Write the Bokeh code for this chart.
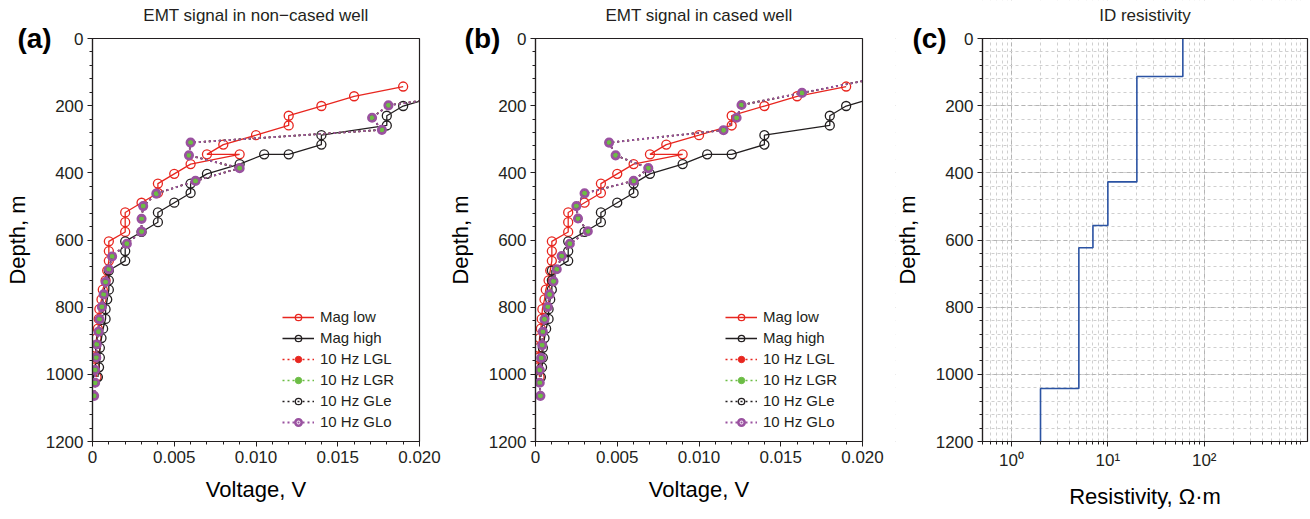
import math
from bokeh.plotting import figure
from bokeh.layouts import row
from bokeh.models import (Range1d, FixedTicker, SingleIntervalTicker, CustomJSTickFormatter,
                          Legend, LegendItem, Label)
from bokeh.embed import file_html
from bokeh.resources import INLINE

# ---------------- data ----------------
depth_low = [143, 172, 201, 230, 259, 288, 316, 345, 345, 374, 403, 432, 460, 489, 518, 547, 576,
             604, 633, 662, 691, 720, 748, 777, 806, 835, 864, 892, 921, 950, 979, 1008]
mag_low = [0.0190, 0.0160, 0.0140, 0.0120, 0.0120, 0.0100, 0.0080, 0.0070, 0.0090, 0.0060, 0.0050,
           0.0040, 0.0040, 0.0030, 0.0020, 0.0020, 0.0020, 0.0010, 0.0010, 0.0010, 0.0009, 0.0008,
           0.00063, 0.00055, 0.00042, 0.00038, 0.00033, 0.00025, 0.00020, 0.00020, 0.00015, 0.00025]

depth_high = [172, 201, 230, 259, 288, 316, 345, 345, 374, 403, 432, 460, 489, 518, 547, 576, 604,
              633, 662, 691, 720, 748, 777, 806, 835, 864, 892, 921, 950, 979, 1008]
mag_high = [0.0210, 0.0190, 0.0180, 0.0180, 0.0140, 0.0140, 0.0120, 0.0105, 0.0090, 0.0070, 0.0060,
            0.0060, 0.0050, 0.0040, 0.0040, 0.0030, 0.0020, 0.0020, 0.0020, 0.0010, 0.0010, 0.0010,
            0.0009, 0.0008, 0.0008, 0.00065, 0.00055, 0.00045, 0.00045, 0.00040, 0.00033]

# 10 Hz series, non-cased well (LGL, LGR, GLe, GLo overlap)
depth_10hz_a = [161, 199, 236, 272, 310, 348, 386, 424, 462, 499, 537, 575, 611, 649, 687, 725, 762,
                799, 836, 873, 911, 950, 987, 1025, 1064]
hz_a = [0.0237, 0.0181, 0.0171, 0.0177, 0.0060, 0.0059, 0.0090, 0.0063, 0.0039, 0.0031, 0.0030,
        0.0030, 0.0021, 0.0012, 0.0010, 0.0008, 0.00068, 0.00057, 0.00043, 0.00037, 0.00026,
        0.00023, 0.00016, 0.00016, 0.0001]

# 10 Hz series, cased well
depth_10hz_b = [124, 162, 198, 236, 273, 310, 348, 386, 424, 461, 499, 536, 574, 611, 648, 687, 723,
                762, 799, 836, 873, 913, 951, 987, 1025, 1064]
hz_b = [0.0203, 0.0163, 0.0126, 0.0123, 0.0115, 0.0045, 0.0049, 0.0069, 0.0060, 0.0030, 0.0025,
        0.0026, 0.0032, 0.0021, 0.0016, 0.0013, 0.0011, 0.00086, 0.00075, 0.00055, 0.00045,
        0.00041, 0.00035, 0.00026, 0.00026, 0.0003]

# 1D resistivity model
layer_top = [0, 113, 427, 557, 623, 1042]
layer_res = [60, 20, 10, 7, 5, 2]
max_depth = 1200

volt_max = 0.02
res_min, res_max = 0.5, 1180
x_ticks = [0, 0.005, 0.010, 0.015, 0.020]
log_labels = {1: "10\u2070", 10: "10\u00b9", 100: "10\u00b2"}

# ---------------- layout geometry (pixels) ----------------
H = 519
BOX_TOP, BOX_BOTTOM = 38, 441
W_A, W_B, W_C = 442, 453, 415
BOX_A = (92, 419)
BOX_B = (93, 420)
BOX_C = (87, 412)
TAG_DX = {"(a)": -58, "(b)": -53, "(c)": -53}

# ---------------- style ----------------
FONT = "Liberation Sans"
INK = "#231f20"
RED = "#e8261f"
GREEN = "#6cbd45"
PURPLE = "#9a52a0"
BLUE = "#2b53a3"

ppm = (BOX_BOTTOM - BOX_TOP) / max_depth
Y_TOP = -BOX_TOP / ppm
Y_BOT = max_depth + (H - BOX_BOTTOM) / ppm


def style_axis(ax):
    ax.axis_line_color = INK
    ax.axis_line_width = 1.2
    ax.major_tick_line_color = INK
    ax.minor_tick_line_color = INK
    ax.major_tick_out = 5
    ax.major_tick_in = 0
    ax.minor_tick_out = 3
    ax.minor_tick_in = 0
    ax.major_label_text_font = FONT
    ax.major_label_text_font_size = "17px"
    ax.major_label_text_color = INK
    ax.major_label_standoff = 4
    ax.axis_label_text_font = FONT
    ax.axis_label_text_font_size = "22px"
    ax.axis_label_text_font_style = "normal"
    ax.axis_label_text_color = "black"


def make_fig(W, box, x0, x1, log=False):
    bx0, bx1 = box
    if log:
        l0, l1 = math.log10(x0), math.log10(x1)
        ppd = (bx1 - bx0) / (l1 - l0)
        xs, xe = 10 ** (l0 - bx0 / ppd), 10 ** (l1 + (W - bx1) / ppd)
        tx = lambda dx: 10 ** (l0 + dx / ppd)
        xmid = 10 ** ((l0 + l1) / 2)
    else:
        ppx = (bx1 - bx0) / (x1 - x0)
        xs, xe = x0 - bx0 / ppx, x1 + (W - bx1) / ppx
        tx = lambda dx: x0 + dx / ppx
        xmid = (x0 + x1) / 2
    p = figure(width=W, height=H, x_range=Range1d(xs, xe), y_range=Range1d(Y_BOT, Y_TOP),
               x_axis_type="log" if log else "linear", output_backend="svg",
               toolbar_location=None, min_border=0, min_border_left=0, min_border_right=0,
               min_border_top=0, min_border_bottom=0)
    p.outline_line_color = None
    p.background_fill_color = "white"
    p.border_fill_color = "white"
    for ax in (p.xaxis[0], p.yaxis[0]):
        style_axis(ax)
    p.xaxis.fixed_location = max_depth
    p.xaxis.bounds = (x0, x1)
    p.yaxis.fixed_location = x0
    p.yaxis.bounds = (0, max_depth)
    p.yaxis.ticker = SingleIntervalTicker(interval=200, num_minor_ticks=5)
    p.yaxis.axis_label = "Depth, m"
    p.yaxis.axis_label_standoff = 13
    p.xaxis.axis_label_standoff = 11
    p._geo = dict(xs=xs, xe=xe, x0=x0, x1=x1, tx=tx, xmid=xmid)
    return p


def finish(p, title, tag):
    g = p._geo
    # white masks outside the plotting box (they act as the frame clip)
    p.quad(left=[g["xs"], g["x1"], g["xs"], g["xs"]], right=[g["x0"], g["xe"], g["xe"], g["xe"]],
           top=[Y_TOP, Y_TOP, Y_TOP, max_depth], bottom=[Y_BOT, Y_BOT, 0, Y_BOT],
           fill_color="white", line_color=None)
    p.quad(left=[g["x0"]], right=[g["x1"]], top=[0], bottom=[max_depth],
           fill_color=None, line_color=INK, line_width=1.2)
    p.add_layout(Label(x=g["xmid"], y=(15 - BOX_TOP) / ppm, text=title, text_font=FONT,
                       text_font_size="17px", text_align="center", text_baseline="middle",
                       text_color=INK))
    p.add_layout(Label(x=g["tx"](TAG_DX[tag]), y=0, text=tag, text_font=FONT,
                       text_font_size="28px", text_font_style="bold", text_align="center",
                       text_baseline="middle", text_color="black"))


def emt_panel(W, box, title, hz_depth, hz_vals, tag):
    p = make_fig(W, box, 0, volt_max)
    p.grid.visible = False
    p.xaxis.ticker = FixedTicker(ticks=x_ticks, minor_ticks=[i * 0.001 for i in range(21)])
    p.xaxis.formatter = CustomJSTickFormatter(code="return tick == 0 ? '0' : tick.toFixed(3);")
    p.xaxis.axis_label = "Voltage, V"

    l1 = p.line(mag_low, depth_low, line_color=RED, line_width=1.3)
    c1 = p.scatter(mag_low, depth_low, marker="circle", size=9, fill_color=None,
                   line_color=RED, line_width=1.3)
    l2 = p.line(mag_high, depth_high, line_color=INK, line_width=1.3)
    c2 = p.scatter(mag_high, depth_high, marker="circle", size=9, fill_color=None,
                   line_color=INK, line_width=1.3)

    l3 = p.line(hz_vals, hz_depth, line_color=RED, line_width=1.6, line_dash="2 3")
    c3 = p.scatter(hz_vals, hz_depth, marker="circle", size=5, fill_color=RED, line_color=RED)
    l4 = p.line(hz_vals, hz_depth, line_color=GREEN, line_width=1.6, line_dash="2 3")
    c4 = p.scatter(hz_vals, hz_depth, marker="circle", size=5, fill_color=GREEN, line_color=GREEN)
    l5 = p.line(hz_vals, hz_depth, line_color=INK, line_width=1.6, line_dash="2 3")
    c5 = p.scatter(hz_vals, hz_depth, marker="circle", size=7, fill_color=None,
                   line_color=INK, line_width=1.3)
    l6 = p.line(hz_vals, hz_depth, line_color=PURPLE, line_width=2, line_dash="2 3")
    c6 = p.scatter(hz_vals, hz_depth, marker="circle", size=7.5, fill_color=None,
                   line_color=PURPLE, line_width=2.6)
    p.scatter(hz_vals, hz_depth, marker="circle", size=4, fill_color=GREEN, line_color=None)

    finish(p, title, tag)

    legend = Legend(items=[
        LegendItem(label="Mag low", renderers=[l1, c1]),
        LegendItem(label="Mag high", renderers=[l2, c2]),
        LegendItem(label="10 Hz LGL", renderers=[l3, c3]),
        LegendItem(label="10 Hz LGR", renderers=[l4, c4]),
        LegendItem(label="10 Hz GLe", renderers=[l5, c5]),
        LegendItem(label="10 Hz GLo", renderers=[l6, c6]),
    ], location=(box[0] + 190, H - 430))
    legend.border_line_color = None
    legend.background_fill_alpha = 0
    legend.padding = 0
    legend.margin = 0
    legend.spacing = 4
    legend.glyph_width = 32
    legend.glyph_height = 16
    legend.label_height = 16
    legend.label_standoff = 6
    legend.label_text_font = FONT
    legend.label_text_font_size = "15px"
    legend.label_text_color = INK
    p.add_layout(legend)
    return p


pa = emt_panel(W_A, BOX_A, "EMT signal in non\u2212cased well", depth_10hz_a, hz_a, "(a)")
pb = emt_panel(W_B, BOX_B, "EMT signal in cased well", depth_10hz_b, hz_b, "(b)")

# ---------------- resistivity panel ----------------
pc = make_fig(W_C, BOX_C, res_min, res_max, log=True)
minor_log = [m * 10.0 ** e for e in (-1, 0, 1, 2, 3) for m in range(1, 10)]
minor_log = [v for v in minor_log if res_min <= v <= res_max]
pc.xaxis.ticker = FixedTicker(ticks=[1, 10, 100], minor_ticks=minor_log)
pc.xaxis.formatter = CustomJSTickFormatter(
    args=dict(labels={str(k): v for k, v in log_labels.items()}),
    code="const k = String(Math.round(tick)); return (k in labels) ? labels[k] : '';")
pc.xaxis.axis_label = "Resistivity, \u03a9\u00b7m"
for g in (pc.xgrid[0], pc.ygrid[0]):
    g.grid_line_color = "#b4b4b4"
    g.grid_line_dash = "4 3"
    g.grid_line_width = 1
    g.minor_grid_line_color = "#cfcfcf"
    g.minor_grid_line_dash = "3 3"
    g.minor_grid_line_width = 1

xs_step, ys_step = [], []
bottoms = layer_top[1:] + [max_depth]
for r, t, b in zip(layer_res, layer_top, bottoms):
    xs_step += [r, r]
    ys_step += [t, b]
pc.line(xs_step, ys_step, line_color=BLUE, line_width=1.6)
finish(pc, "ID resistivity", "(c)")

layout = row(pa, pb, pc, spacing=0)
open("out.html", "w").write(file_html(layout, INLINE))
